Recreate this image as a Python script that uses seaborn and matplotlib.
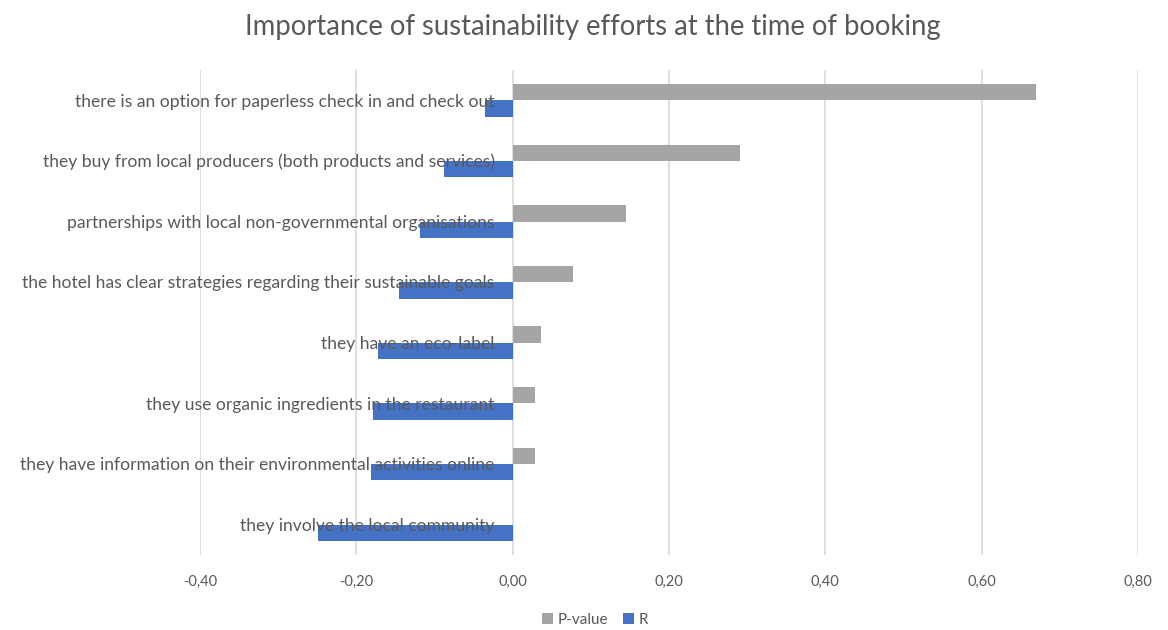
import matplotlib
matplotlib.use("Agg")
import matplotlib.pyplot as plt
import matplotlib.transforms as mtransforms
from matplotlib.ticker import FuncFormatter, MultipleLocator
import seaborn as sns
import pandas as pd

categories = [
    "there is an option for paperless check in and check out",
    "they buy from local producers (both products and services)",
    "partnerships with local non-governmental organisations",
    "the hotel has clear strategies regarding their sustainable goals",
    "they have an eco-label",
    "they use organic ingredients in the restaurant",
    "they have information on their environmental activities online",
    "they involve the local community",
]
p_values = [0.669, 0.291, 0.145, 0.077, 0.036, 0.028, 0.028, 0.0]
r_values = [-0.035, -0.088, -0.119, -0.145, -0.172, -0.179, -0.181, -0.249]
series_names = ["P-value", "R"]
title = "Importance of sustainability efforts at the time of booking"

df = pd.DataFrame({
    "category": categories * 2,
    "series": [series_names[0]] * len(categories) + [series_names[1]] * len(categories),
    "value": p_values + r_values,
})

sns.set_theme(style="white")
plt.rcParams["font.family"] = ["Lato", "DejaVu Sans"]
text_color = "#595959"

fig = plt.figure(figsize=(11.68, 6.30), dpi=100)
ax = fig.add_axes([200 / 1168, 1 - 555 / 630, (1138 - 200) / 1168, (555 - 70) / 630])

sns.barplot(
    data=df, y="category", x="value", hue="series", orient="h",
    hue_order=series_names, order=categories,
    palette={"P-value": "#A5A5A5", "R": "#4472C4"},
    width=0.54, saturation=1, ax=ax, zorder=2, linewidth=0,
)

ax.set_xlim(-0.4, 0.8)
ax.xaxis.set_major_locator(MultipleLocator(0.2))
ax.xaxis.set_major_formatter(FuncFormatter(lambda v, _: f"{v:.2f}".replace(".", ",").replace("-0,00", "0,00")))
ax.grid(axis="x", color="#D9D9D9", linewidth=1.2, zorder=0)
ax.grid(axis="y", visible=False)
for s in ax.spines.values():
    s.set_visible(False)
ax.tick_params(axis="x", colors=text_color, labelsize=10.5, length=0, pad=14)
ax.set_yticks(range(len(categories)))
ax.set_yticklabels([])
ax.tick_params(axis="y", length=0)
ax.set_xlabel("")
ax.set_ylabel("")

# category labels sit at the zero line, right aligned
trans = mtransforms.offset_copy(ax.transData, fig=fig, x=-18, y=0, units="dots")
for i, cat in enumerate(categories):
    ax.text(0, i + 0.02, cat, transform=trans, ha="right", va="center",
            fontsize=12.6, color=text_color, zorder=5)

ax.legend_.remove()
handles, labels = ax.get_legend_handles_labels()
leg = fig.legend(handles, labels, loc="center", bbox_to_anchor=(595 / 1168, 1 - 620 / 630),
                 ncol=2, frameon=False, fontsize=11, handlelength=0.7, handleheight=0.7,
                 handletextpad=0.3, columnspacing=1.0)
for t in leg.get_texts():
    t.set_color(text_color)

fig.text(593 / 1168, 1 - 27 / 630, title, ha="center", va="center", fontsize=19.8, color=text_color)

fig.savefig("out.png", dpi=100)
